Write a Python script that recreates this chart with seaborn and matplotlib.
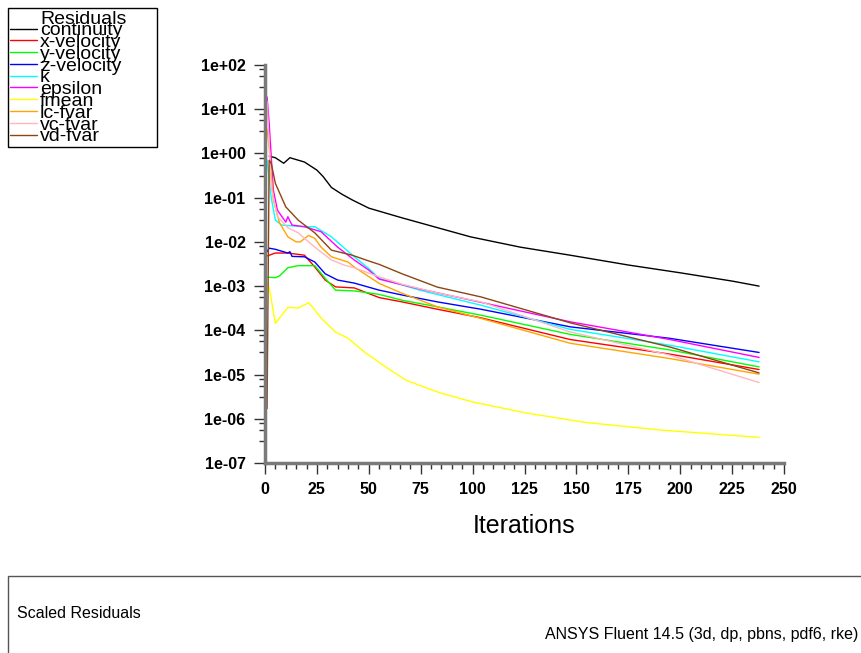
import numpy as np
import pandas as pd
import seaborn as sns
import matplotlib.pyplot as plt
from matplotlib.lines import Line2D
from matplotlib.patches import Rectangle
from matplotlib.ticker import MultipleLocator, LogLocator, FuncFormatter, NullFormatter

# residual histories (iteration, scaled residual)
continuity_it = [2, 5, 9, 12, 19, 25, 28, 32, 37, 42, 50, 58, 66, 83, 99, 123, 147, 175, 200, 225, 238]
continuity = [0.87, 0.80, 0.60, 0.80, 0.64, 0.42, 0.30, 0.17, 0.12, 0.089, 0.058, 0.045, 0.035,
              0.021, 0.013, 0.0076, 0.0050, 0.0030, 0.0020, 0.0013, 0.0010]

xvel_it = [1, 5, 11, 19, 24, 29, 34, 43, 55, 66, 83, 104, 147, 195, 238]
xvel = [4.8e-3, 5.6e-3, 5.6e-3, 5.0e-3, 2.7e-3, 1.37e-3, 9.6e-4, 9.1e-4, 5.5e-4, 4.4e-4,
        3.0e-4, 1.92e-4, 6.2e-5, 2.9e-5, 1.30e-5]

yvel_it = [1, 5, 7, 11, 16, 24, 29, 34, 43, 55, 66, 83, 104, 147, 195, 238]
yvel = [1.6e-3, 1.55e-3, 1.7e-3, 2.6e-3, 2.9e-3, 2.9e-3, 1.5e-3, 8.1e-4, 7.8e-4, 6.5e-4,
        4.8e-4, 3.4e-4, 2.2e-4, 8.1e-5, 3.6e-5, 1.49e-5]

zvel_it = [1, 2, 5, 11, 12, 13, 19, 24, 29, 35, 43, 55, 66, 83, 104, 147, 195, 238]
zvel = [6.0e-3, 7.2e-3, 6.8e-3, 5.6e-3, 6.0e-3, 4.7e-3, 4.6e-3, 3.5e-3, 1.9e-3, 1.37e-3,
        1.17e-3, 8.1e-4, 6.3e-4, 4.4e-4, 3.0e-4, 1.20e-4, 6.6e-5, 3.16e-5]

k_it = [1, 3, 5, 8, 19, 24, 32, 43, 50, 55, 75, 104, 147, 195, 238]
k = [0.7, 0.1, 0.031, 0.024, 0.022, 0.022, 0.013, 0.0046, 0.0025, 1.5e-3, 8.0e-4,
     3.7e-4, 1.05e-4, 4.6e-5, 1.94e-5]

eps_it = [1, 2, 4, 6, 10, 11, 13, 19, 27, 35, 43, 50, 55, 75, 104, 147, 195, 238]
eps = [19, 4.9, 0.15, 0.052, 0.028, 0.037, 0.024, 0.022, 0.017, 0.0076, 0.0039, 0.0023,
       1.44e-3, 8.5e-4, 4.3e-4, 1.56e-4, 6.2e-5, 2.44e-5]

fmean_it = [1, 2, 5, 11, 16, 21, 24, 27, 34, 40, 48, 58, 68, 84, 100, 126, 154, 192, 238]
fmean = [1.2e-3, 9.5e-4, 1.44e-4, 3.3e-4, 3.2e-4, 4.2e-4, 2.9e-4, 1.9e-4, 9.1e-5, 6.6e-5,
         3.2e-5, 1.5e-5, 7.4e-6, 3.9e-6, 2.4e-6, 1.35e-6, 8.3e-7, 5.5e-7, 3.8e-7]

lc_it = [1, 2, 4, 7, 11, 15, 17, 21, 24, 27, 32, 40, 43, 55, 66, 83, 104, 147, 195, 238]
lc = [3.5, 1.4, 0.09, 0.027, 0.013, 0.010, 0.010, 0.014, 0.012, 0.0076, 0.0046, 0.0035,
      0.0027, 1.15e-3, 6.9e-4, 3.4e-4, 1.86e-4, 5.1e-5, 2.3e-5, 1.02e-5]

vc_it = [1, 3, 6, 11, 16, 24, 32, 38, 43, 55, 66, 83, 104, 147, 195, 238]
vc = [15, 0.17, 0.037, 0.021, 0.016, 0.0076, 0.0039, 0.0030, 0.0026, 1.62e-3, 1.1e-3,
      7.0e-4, 4.4e-4, 9.2e-5, 2.75e-5, 6.6e-6]

vd_it = [1, 2, 3, 5, 10, 16, 24, 32, 42, 50, 55, 66, 83, 104, 147, 195, 238]
vd = [1.7e-6, 0.7, 0.6, 0.21, 0.062, 0.031, 0.016, 0.0065, 0.005, 0.0037, 3.1e-3, 1.9e-3,
      9.5e-4, 5.7e-4, 1.48e-4, 4.2e-5, 1.09e-5]

names = ['continuity', 'x-velocity', 'y-velocity', 'z-velocity', 'k', 'epsilon',
         'fmean', 'lc-fvar', 'vc-fvar', 'vd-fvar']
colors = ['#000000', '#ff0000', '#00ff00', '#0000ff', '#00ffff', '#ff00ff',
          '#ffff00', '#ffa500', '#ffb6c1', '#8b4513']
iters = [continuity_it, xvel_it, yvel_it, zvel_it, k_it, eps_it, fmean_it, lc_it, vc_it, vd_it]
values = [continuity, xvel, yvel, zvel, k, eps, fmean, lc, vc, vd]

df = pd.concat([pd.DataFrame({'iter': it, 'res': v, 'name': n})
                for n, it, v in zip(names, iters, values)], ignore_index=True)

sns.set_theme(style='ticks')
plt.rcParams['font.family'] = ['Liberation Sans', 'DejaVu Sans']
plt.rcParams['text.color'] = 'black'
plt.rcParams['axes.labelcolor'] = 'black'

W, H = 862, 653
fig = plt.figure(figsize=(W / 100, H / 100), dpi=100)
ax = fig.add_axes([265 / W, 1 - 463 / H, (784 - 265) / W, (463 - 65) / H])

sns.lineplot(data=df, x='iter', y='res', hue='name', hue_order=names,
             palette=dict(zip(names, colors)), estimator=None, sort=False,
             legend=False, lw=1, ax=ax)

ax.set_yscale('log')
ax.set_ylim(1e-7, 1e2)
ax.set_xlim(0, 250)
ax.xaxis.set_major_locator(MultipleLocator(25))
ax.xaxis.set_minor_locator(MultipleLocator(5))
ax.yaxis.set_major_locator(LogLocator(base=10, numticks=20))
ax.yaxis.set_minor_locator(LogLocator(base=10, subs=(3.16, 5.62, 7.94), numticks=20))
ax.yaxis.set_minor_formatter(NullFormatter())
ax.yaxis.set_major_formatter(FuncFormatter(lambda v, p: f"{v:.0e}"))

ax.tick_params(which='major', length=8, width=1, color='#333333', labelsize=11.5,
               labelcolor='black', pad=6)
ax.tick_params(which='minor', length=4, width=1, color='#333333')

for s in ['top', 'right']:
    ax.spines[s].set_visible(False)
for s in ['left', 'bottom']:
    ax.spines[s].set_color('#7a7a7a')
    ax.spines[s].set_linewidth(2.5)

ax.set_xlabel('Iterations', fontsize=18, labelpad=12, color='black')
ax.set_ylabel('')

# legend in the top-left corner, Fluent style
handles = [Line2D([], [], color='none')] + list(ax.get_lines())
labels = ['Residuals'] + names
leg = fig.legend(handles, labels, loc='upper left',
                 bbox_to_anchor=(8 / W, 1 - 142 / H, 149 / W, 134 / H), mode='expand',
                 fontsize=14, labelspacing=-0.3, handlelength=1.4, handletextpad=0.15,
                 borderpad=0.1, borderaxespad=0, fancybox=False, framealpha=1,
                 edgecolor='black')
leg.get_frame().set_linewidth(1)
for t in leg.get_texts():
    t.set_color('black')

# bottom info panel
fig.patches.append(Rectangle((8 / W, -0.05), 1.0, (653 - 576) / H + 0.05,
                             transform=fig.transFigure, fill=False,
                             edgecolor='#555555', lw=1))
fig.text(17 / W, 1 - 614 / H, 'Scaled Residuals', fontsize=11.5, ha='left', va='center')
fig.text(858 / W, 1 - 634 / H, 'ANSYS Fluent 14.5 (3d, dp, pbns, pdf6, rke)',
         fontsize=11.5, ha='right', va='center')

fig.canvas.draw()
for t in ax.get_xticklabels() + ax.get_yticklabels():
    t.set_fontweight('bold')

fig.savefig('out.png', dpi=100)
